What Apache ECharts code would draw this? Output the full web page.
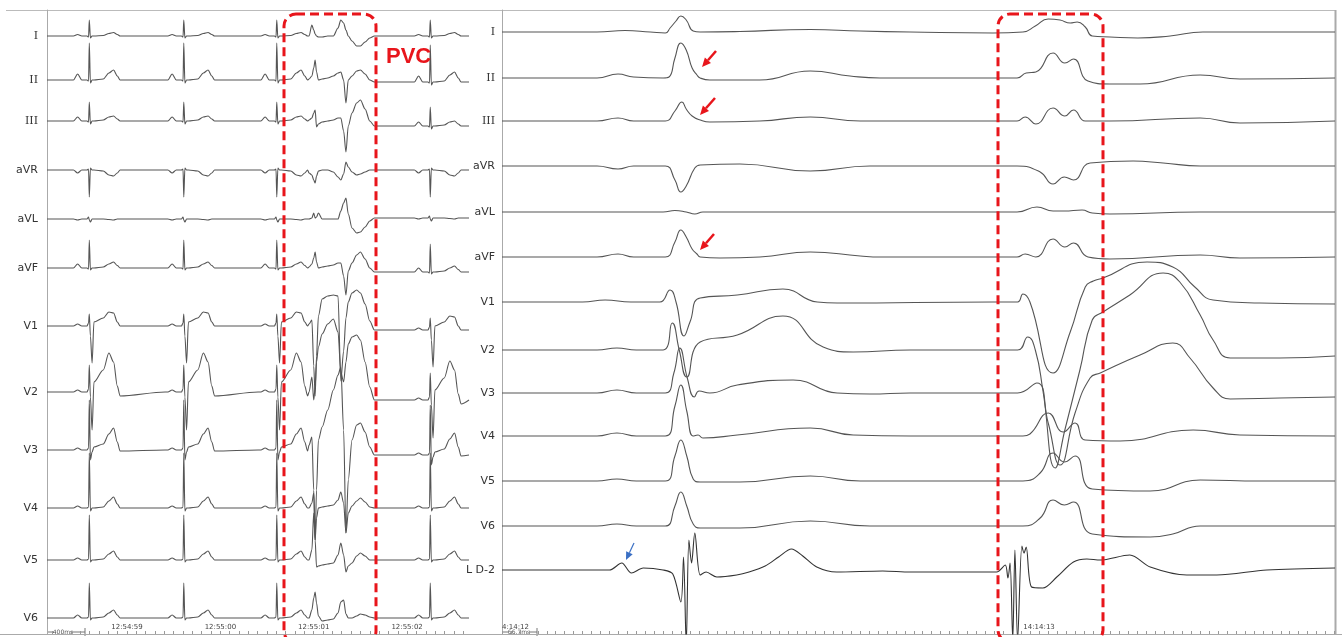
<!DOCTYPE html>
<html>
<head>
<meta charset="utf-8">
<script src="https://cdn.jsdelivr.net/npm/echarts@6/dist/echarts.min.js"></script>
<style>
  html, body { margin: 0; padding: 0; background: #fff; }
  #chart { width: 1342px; height: 637px; }
</style>
</head>
<body>
<div id="chart"></div>
<script>
// ---------- 数据 ----------
// 导联名
const leftLeads = ['I', 'II', 'III', 'aVR', 'aVL', 'aVF', 'V1', 'V2', 'V3', 'V4', 'V5', 'V6'];
const rightLeads = ['I', 'II', 'III', 'aVR', 'aVL', 'aVF', 'V1', 'V2', 'V3', 'V4', 'V5', 'V6', 'L D-2'];

// 时间刻度 (ms, 左: 相对 12:54:59, 右: 相对 14:14:12)
const leftTimeTicks = [0, 1000, 2000, 3000];
const leftTimeLabels = ['12:54:59', '12:55:00', '12:55:01', '12:55:02'];
const rightTimeTicks = [0, 1000];
const rightTimeLabels = ['4:14:12', '14:14:13'];

// 左图: 窦性心搏 R 波时刻 (ms) 与一个心搏内的取样时刻 (相对 R 波, ms)
const leftBeatTimes = [-404, 608, 1604, 3248];
const leftBeatOffsets = [-200, -170, -125, -80, -25, -8, 0, 12, 30, 50, 150, 210, 260, 300, 330];
// 每个导联一个窦性心搏的幅度
const leftBeat = [
  [0, 0, 1.5, 0, 0, -1, 16, -2, 0, 0, 0.5, 2.5, 3.5, 1.5, 0],
  [0, 0, 6, 0, 0, -1, 37, -3, 0, 0, 1, 7, 10, 4, 0],
  [0, 0, 4, 0, 0, -1, 19, -3, 0, 0, 1, 4, 5, 2, 0],
  [0, 0, -3, 0, 0, 1, -27, 2, 0, 0, -1, -5, -6, -3, 0],
  [0, 0, -1, 0, 0, 2, -1, -3, 0, 0, 0, -0.5, -1, 0, 0],
  [0, 0, 4, 0, 0, -1, 28, -2, 0, 0, 1, 4, 6, 2.5, 0],
  [0, 0, 2, 0, 0, 3, 12, -10, -37, 4, 8, 14, 13, 4, 0],
  [0, 0, 2, 0, 0, 3, 27, -5, -38, 10, 22, 39, 30, 6, -4],
  [0, 0, 2, 0, 0, 2, 50, -10, -2, 3, 6, 16, 22, 8, -1],
  [0, 0, 2, 0, 0, 1, 55, -3, 0, 0, 1, 7, 11, 4, 0],
  [0, 0, 2, 0, 0, 1, 45, -2, 0, 0, 1, 6, 9, 3, 0],
  [0, 0, 3, 0, 0, 1, 35, -2, 0, 0, 1, 5, 8, 3, 0]
];
// 左图红框内 (第三个心搏之后) 的早搏段
const leftPvcAfterBeat = 2;
const leftPvcTimes = [1950, 1980, 2000, 2015, 2030, 2050, 2090, 2150, 2210, 2260, 2290, 2320, 2345, 2370, 2410, 2460, 2500, 2550, 2600, 2650];
const leftPvc = [
  [0, 11, 6, 2, 0, -1, -1, 0, 0, 8, 16, 13, 6, 0, -5, -10, -10, -6, -2, 0],
  [1, 4, 12, 20, 8, 0, 1, 2, 4, 7, 8, 0, -23, 0, 4, 9, 10, 6, 0, -2],
  [1, 3, 8, 11, -6, -3, -1, 0, 1, 3, 3, -10, -31, -5, 8, 18, 21, 12, 0, -5],
  [-3, -5, -10, -13, -6, -1, 0, 0, -2, -7, -10, -4, 8, 3, -2, -5, -4, -2, 0, 0],
  [0, 1, 6, 1, 2, 6, 0, 0, 0, 0, 8, 16, 21, 5, -9, -14, -13, -8, -2, 1],
  [1, 4, 10, 16, 6, 0, 1, 2, 3, 5, 5, -8, -27, -3, 5, 13, 16, 9, 0, -4],
  [2, 6, -40, -70, -30, 10, 27, 30, 31, 30, -55, -25, 8, 24, 33, 36, 33, 22, 5, -4],
  [0, 15, -8, 5, 30, 45, 58, 68, 73, 60, 20, 10, 30, 48, 55, 57, 52, 30, 5, -8],
  [5, 13, -40, -90, -40, 10, 23, 40, 60, 75, 83, 20, -83, -30, 10, 25, 27, 18, 3, -5],
  [0, 5, 15, -32, -10, 0, 1, 2, 3, 8, 16, 5, -25, -5, 2, 7, 10, 6, 1, 0],
  [0, 10, 47, 20, -7, -6, -5, -4, -3, 5, 17, 5, -12, -6, -3, 4, 7, 4, 0, 0],
  [0, 8, 20, 26, 15, 2, -3, -2, -1, 5, 16, 18, 4, 0, 0, 2, 4, 3, 1, 0]
];

// 右图: 每个导联 [ms, 幅度]
const rightI = [[0,0],[177,0],[229,1.5],[276,0],[304,-1],[313,4],[324,11],[333,16],[343,12],[356,1],[369,0],[443,0.5],[574,2.5],[667,1],[760,0],[914,-1],[970,0],[993,6],[1017,13],[1039,12],[1058,9],[1071,10],[1086,5],[1099,-4],[1132,-5],[1184,-6],[1244,-4],[1305,0],[1551,0]];
const rightII = [[0,0],[177,0],[216,4],[245,1],[300,0],[311,1],[322,20],[333,35],[343,28],[354,10],[363,3],[369,0],[387,-2],[480,-2],[574,7],[648,2],[704,0],[959,0],[976,5],[994,6],[1026,25],[1048,15],[1064,19],[1091,-3],[1132,-6],[1188,-6],[1300,3],[1374,-1],[1551,0]];
const rightIII = [[0,0],[177,0],[216,3],[245,0],[304,0],[322,10],[335,19],[343,12],[354,5],[369,1],[387,-1],[480,0],[574,4],[667,0],[959,0],[974,4],[994,-3],[1026,13],[1048,5],[1064,11],[1086,0],[1132,0],[1300,3],[1374,-2],[1551,0]];
const rightAVR = [[0,0],[177,0],[216,-3],[245,0],[304,0],[322,-14],[333,-26],[343,-20],[359,-2],[369,1],[443,2],[574,-5],[685,0],[959,0],[1002,-6],[1026,-18],[1047,-11],[1064,-14],[1095,3],[1175,5],[1231,3],[1300,0],[1551,0]];
const rightAVL = [[0,0],[300,0],[322,1.5],[343,0],[359,-2],[374,0],[959,0],[996,5],[1026,1],[1047,1],[1080,2],[1099,-1],[1132,-2],[1300,0],[1551,0]];
const rightAVF = [[0,0],[177,0],[216,3],[245,0],[304,0],[322,15],[333,27],[343,20],[354,8],[363,3],[369,0],[406,-1],[480,0],[574,5],[667,1],[704,0],[959,0],[974,3],[994,0],[1026,18],[1048,10],[1064,14],[1091,0],[1132,-2],[1300,2],[1374,-1],[1551,0]];
const rightV1 = [[0,0],[150,0],[192,2],[240,0],[294,0],[313,12],[324,0],[339,-34],[350,-20],[369,4],[438,7],[523,13],[587,0],[624,-1],[914,0],[960,0],[970,8],[983,0],[1026,-71],[1058,-30],[1086,15],[1101,21],[1119,24],[1201,40],[1249,35],[1290,15],[1324,2],[1411,-1],[1551,-2]];
const rightV2 = [[0,0],[177,0],[214,2],[250,0],[300,0],[317,27],[330,0],[344,-27],[369,8],[438,15],[523,34],[598,3],[654,-2],[760,0],[960,0],[979,13],[993,0],[1007,-40],[1030,-118],[1048,-80],[1076,-20],[1099,30],[1119,38],[1169,55],[1231,77],[1262,68],[1300,35],[1324,10],[1356,-8],[1448,-8],[1551,-6]];
const rightV3 = [[0,0],[177,0],[214,3],[250,0],[304,0],[320,20],[331,45],[345,15],[358,-4],[367,2],[387,0],[438,8],[542,13],[624,0],[685,-1],[760,0],[960,0],[996,10],[1017,-30],[1039,-72],[1067,-20],[1095,15],[1114,20],[1188,38],[1249,50],[1281,35],[1324,5],[1356,-6],[1448,-5],[1551,-4]];
const rightV4 = [[0,0],[177,0],[214,3],[250,0],[304,0],[322,30],[333,51],[344,25],[356,0],[365,1],[374,-2],[438,1],[574,8],[654,1],[760,0],[970,0],[983,2],[1017,23],[1045,4],[1067,13],[1086,-4],[1151,-5],[1287,6],[1374,1],[1551,0]];
const rightV5 = [[0,0],[177,0],[214,2],[250,0],[304,0],[322,25],[333,41],[344,25],[356,2],[369,-1],[443,-1],[574,5],[667,0],[760,0],[970,0],[1002,8],[1026,28],[1047,19],[1067,25],[1099,-8],[1207,-10],[1300,1],[1411,0],[1551,0]];
const rightV6 = [[0,0],[177,0],[214,2],[250,0],[304,0],[322,20],[333,34],[344,20],[356,2],[369,-2],[443,-2],[574,5],[685,0],[760,0],[970,0],[1002,8],[1026,26],[1047,21],[1064,24],[1099,-8],[1207,-11],[1249,-8],[1300,0],[1551,0]];
const rightLD2 = [[0,0],[200,0],[223,7],[241,-3],[263,2],[300,0],[318,-4],[333,-32],[338,13],[343,-75],[348,30],[353,7],[359,37],[369,-5],[380,-2],[400,-7],[437,-5],[460,-2],[490,4],[515,13],[539,21],[560,14],[586,3],[623,-2],[709,-1],[760,-2],[921,-2],[937,5],[942,-8],[946,7],[951,-70],[955,20],[960,-70],[968,24],[972,17],[976,23],[986,-17],[1007,-18],[1033,-7],[1064,8],[1089,11],[1114,10],[1169,15],[1207,3],[1275,-5],[1331,-5],[1424,0],[1551,2]];
const rightData = [rightI, rightII, rightIII, rightAVR, rightAVL, rightAVF, rightV1, rightV2, rightV3, rightV4, rightV5, rightV6, rightLD2];

// ---------- 布局 ----------
// 每个导联基线距离网格顶端的像素
const leftRows = [26, 70, 111, 160, 209, 258, 316, 382, 440, 498, 550, 608];
const rightRows = [22, 68, 111, 156, 202, 247, 292, 340, 383, 426, 471, 516, 560];
const gridH = 624;
const leftRange = [-857, 3663];
const rightRange = [0, 1551];

// 组装左图波形
function buildLeft(i) {
  const pts = [[leftRange[0], 0]];
  let drift = 0;
  leftBeatTimes.forEach((bt, k) => {
    leftBeatOffsets.forEach((o, j) => pts.push([bt + o, leftBeat[i][j] + drift]));
    if (k === leftPvcAfterBeat) {
      leftPvcTimes.forEach((t, j) => pts.push([t, leftPvc[i][j]]));
      drift = leftPvc[i][leftPvc[i].length - 1];
    }
  });
  pts.push([leftRange[1], drift]);
  return pts.map(p => [p[0], p[1] - leftRows[i]]);
}

// 底部标尺刻度
const leftRuler = [];
for (let t = -800; t <= leftRange[1]; t += 100) leftRuler.push(t);
const rightRuler = [];
for (let k = 0; k * 1000 / 60 <= rightRange[1]; k++) rightRuler.push(k * 1000 / 60);

const traceColor = '#555';
const red = '#e8151b';

let myChart = echarts.init(document.getElementById('chart'));

const series = [];
leftLeads.forEach((name, i) => {
  series.push({
    name: 'L-' + name, type: 'line', xAxisIndex: 0, yAxisIndex: 0,
    data: buildLeft(i), showSymbol: false, smooth: 0.3, smoothMonotone: 'x',
    lineStyle: { color: traceColor, width: 1.1 }, silent: true
  });
});
rightLeads.forEach((name, i) => {
  const isLD = i === rightLeads.length - 1;
  series.push({
    name: 'R-' + name, type: 'line', xAxisIndex: 1, yAxisIndex: 1,
    data: rightData[i].map(p => [p[0], p[1] - rightRows[i]]),
    showSymbol: false, smooth: isLD ? 0.3 : 0.5,
    lineStyle: { color: isLD ? '#333' : traceColor, width: 1.1 }, silent: true
  });
});

function xAxisOf(grid, range, ticks, labels, ruler) {
  return {
    type: 'value', gridIndex: grid, min: range[0], max: range[1], position: 'bottom',
    axisLine: { show: true, onZero: false, lineStyle: { color: '#aaa' } },
    splitLine: { show: false },
    axisTick: { show: true, inside: true, length: 3, customValues: ruler, lineStyle: { color: '#999' } },
    axisLabel: {
      inside: true, margin: 3, fontSize: 7, color: '#444', fontFamily: 'DejaVu Sans',
      customValues: ticks, alignMinLabel: grid === 1 ? 'left' : 'center',
      formatter: v => labels[ticks.indexOf(v)] || ''
    }
  };
}
// I/II/III 用衬线字体
function yAxisOf(grid, rows, names, margin) {
  const vals = rows.map(r => -r);
  return {
    type: 'value', gridIndex: grid, min: -gridH, max: 0, position: 'left',
    axisLine: { show: true, onZero: false, lineStyle: { color: '#aaa' } },
    axisTick: { show: false }, splitLine: { show: false },
    axisLabel: {
      customValues: vals, margin: margin, fontSize: 11, color: '#333', fontFamily: 'DejaVu Sans',
      formatter: v => {
        const n = names[vals.indexOf(v)] || '';
        return /^I+$/.test(n) ? '{r|' + n + '}' : n;
      },
      rich: { r: { fontFamily: 'DejaVu Serif', fontSize: 11, color: '#333' } }
    }
  };
}

// 箭头
function arrow(x1, y1, x2, y2, color, w, head) {
  const a = Math.atan2(y2 - y1, x2 - x1);
  const bx = x2 - head * Math.cos(a), by = y2 - head * Math.sin(a);
  const px = Math.sin(a) * head * 0.45, py = -Math.cos(a) * head * 0.45;
  return [
    { type: 'line', z: 110, shape: { x1, y1, x2: bx, y2: by }, style: { stroke: color, lineWidth: w } },
    { type: 'polygon', z: 110, shape: { points: [[x2, y2], [bx + px, by + py], [bx - px, by - py]] }, style: { fill: color } }
  ];
}

const graphics = [
  { type: 'line', shape: { x1: 6, y1: 10.5, x2: 1335, y2: 10.5 }, style: { stroke: '#bbb', lineWidth: 1 } },
  { type: 'line', shape: { x1: 1335.5, y1: 10, x2: 1335.5, y2: 634 }, style: { stroke: '#aaa', lineWidth: 2 } },
  { type: 'line', shape: { x1: 0, y1: 634.5, x2: 1342, y2: 634.5 }, style: { stroke: '#aaa', lineWidth: 1 } },
  // 标尺
  { type: 'line', shape: { x1: 48, y1: 632, x2: 54, y2: 632 }, style: { stroke: '#777', lineWidth: 1 } },
  { type: 'line', shape: { x1: 72, y1: 632, x2: 85, y2: 632 }, style: { stroke: '#777', lineWidth: 1 } },
  { type: 'line', shape: { x1: 85, y1: 628, x2: 85, y2: 636 }, style: { stroke: '#777', lineWidth: 1 } },
  { type: 'text', style: { x: 63, y: 632, text: '400ms', fontSize: 6, fill: '#555', align: 'center', verticalAlign: 'middle', fontFamily: 'DejaVu Sans' } },
  { type: 'line', shape: { x1: 503, y1: 632, x2: 508, y2: 632 }, style: { stroke: '#777', lineWidth: 1 } },
  { type: 'line', shape: { x1: 530, y1: 632, x2: 537, y2: 632 }, style: { stroke: '#777', lineWidth: 1 } },
  { type: 'line', shape: { x1: 537, y1: 628, x2: 537, y2: 636 }, style: { stroke: '#777', lineWidth: 1 } },
  { type: 'text', style: { x: 519, y: 632, text: '66.7ms', fontSize: 6, fill: '#555', align: 'center', verticalAlign: 'middle', fontFamily: 'DejaVu Sans' } },
  // 红色虚线框
  { type: 'rect', z: 100, shape: { x: 284, y: 14, width: 92, height: 629, r: 12 }, style: { fill: 'none', stroke: red, lineWidth: 3, lineDash: [9, 5] } },
  { type: 'rect', z: 100, shape: { x: 998, y: 14, width: 105, height: 628, r: 12 }, style: { fill: 'none', stroke: red, lineWidth: 3, lineDash: [9, 5] } },
  { type: 'text', z: 100, style: { x: 386, y: 57, text: 'PVC', fill: red, font: 'bold 22px "Liberation Sans", Arial', verticalAlign: 'middle' } }
]
  .concat(arrow(716, 51, 702, 67, red, 2.5, 9))
  .concat(arrow(715, 98, 700, 115, red, 2.5, 9))
  .concat(arrow(714, 234, 700, 250, red, 2.5, 9))
  .concat(arrow(634, 543, 626, 560, '#3a6fc4', 1.2, 8));

let option = {
  animation: false,
  backgroundColor: '#fff',
  grid: [
    { left: 47, top: 10, width: 422, height: gridH },
    { left: 502, top: 10, width: 833, height: gridH }
  ],
  xAxis: [
    xAxisOf(0, leftRange, leftTimeTicks, leftTimeLabels, leftRuler),
    xAxisOf(1, rightRange, rightTimeTicks, rightTimeLabels, rightRuler)
  ],
  yAxis: [
    yAxisOf(0, leftRows, leftLeads, 9),
    yAxisOf(1, rightRows, rightLeads, 7)
  ],
  series: series,
  graphic: graphics
};
myChart.setOption(option);
window.addEventListener('resize', function () { myChart.resize(); });
</script>
</body>
</html>
